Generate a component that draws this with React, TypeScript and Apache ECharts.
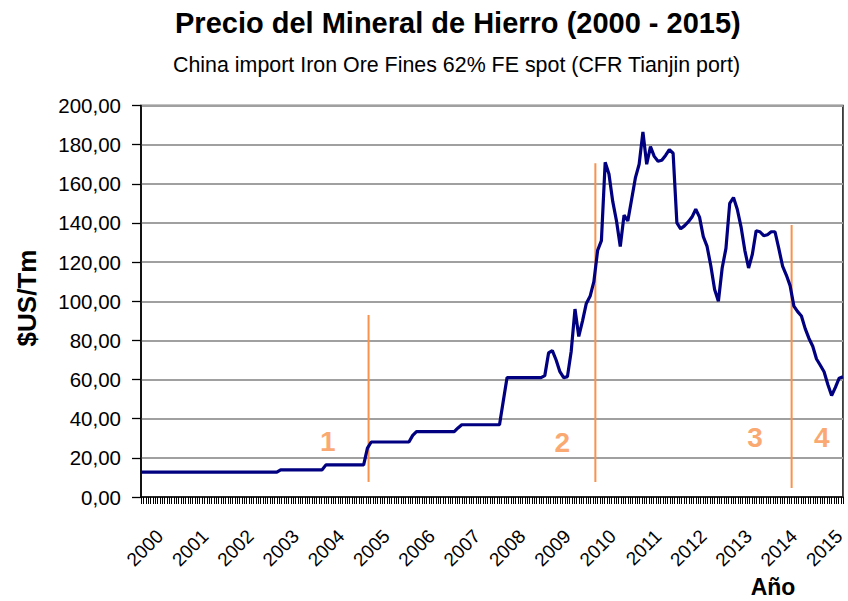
import React, { useEffect, useRef } from "react";
import * as echarts from "echarts";

const titleText = "Precio del Mineral de Hierro (2000 - 2015)";
const subtitleText = "China import Iron Ore Fines 62% FE spot (CFR Tianjin port)";
const yAxisName = "$US/Tm";
const xAxisName = "Año";

// monthly points, first point Aug 1999
const startYear = 1999;
const startMonth = 8;

const prices: number[] = [
  // 0-36
  12.7, 12.7, 12.7, 12.7, 12.7, 12.7, 12.7, 12.7, 12.7, 12.7,
  12.7, 12.7, 12.7, 12.7, 12.7, 12.7, 12.7, 12.7, 12.7, 12.7,
  12.7, 12.7, 12.7, 12.7, 12.7, 12.7, 12.7, 12.7, 12.7, 12.7,
  12.7, 12.7, 12.7, 12.7, 12.7, 12.7, 12.7,
  // 37-48
  13.9, 13.9, 13.9, 13.9, 13.9, 13.9, 13.9, 13.9, 13.9, 13.9, 13.9, 13.9,
  // 49-59
  16.4, 16.4, 16.4, 16.4, 16.4, 16.4, 16.4, 16.4, 16.4, 16.4, 16.4,
  // 60
  25,
  // 61-71
  28.1, 28.1, 28.1, 28.1, 28.1, 28.1, 28.1, 28.1, 28.1, 28.1, 28.1,
  // 72
  31.5,
  // 73-83
  33.4, 33.4, 33.4, 33.4, 33.4, 33.4, 33.4, 33.4, 33.4, 33.4, 33.4,
  // 84
  35.3,
  // 85-95
  36.9, 36.9, 36.9, 36.9, 36.9, 36.9, 36.9, 36.9, 36.9, 36.9, 36.9,
  // 96
  49,
  // 97-106
  61, 61, 61, 61, 61, 61, 61, 61, 61, 61,
  // 107-116
  62, 73.6, 74.8, 70, 64, 61, 61.5, 74.5, 96, 82,
  // 117-126
  90, 98.9, 102.5, 110, 126, 131, 171, 165, 151, 141,
  // 127-136
  128, 144, 141, 152, 163, 170, 186.5, 170, 179, 174,
  // 137-146
  171.5, 172, 174.5, 177.5, 175.6, 140, 137, 138.5, 140.5, 143,
  // 147-156
  147, 143, 133, 128, 118, 106, 100, 117, 127, 150,
  // 157-166
  153, 147, 138, 126, 117, 124, 136, 135.5, 133.5, 134,
  // 167-176
  135.5, 135.5, 127, 118, 113.4, 108, 97.5, 94.7, 92.5, 86,
  // 177-186
  81, 77, 70.5, 67.3, 64, 57.5, 51.8, 56, 60.7, 61.4,
];

// phase divider lines (month index, top value, bottom value)
const phaseLineAt = [60.3, 120.4, 172.4];
const phaseLineTop = [93, 170.5, 139];
const phaseLineBottom = [7.7, 7.7, 4.6];

// phase numbers (month index, value)
const phaseLabels = ["1", "2", "3", "4"];
const phaseLabelAt = [49.5, 111.6, 162.7, 180.4];
const phaseLabelValue = [28.6, 27.6, 30.6, 30.6];

const yMin = 0;
const yMax = 200;
const yStep = 20;

// spacing of the small tick marks along the x axis (in months)
const xTickStep = 0.62;

const FONT = "'Liberation Sans', Arial, sans-serif";
const ORANGE = "#F9924C";

export default function App() {
  const ref = useRef<HTMLDivElement>(null);

  useEffect(() => {
    if (!ref.current) return;
    const chart = echarts.init(ref.current, null, { renderer: "svg" });

    const categories: string[] = prices.map((_, i) => {
      const m = startMonth - 1 + i;
      const y = startYear + Math.floor(m / 12);
      const mm = (m % 12) + 1;
      return `${y}-${mm < 10 ? "0" + mm : mm}`;
    });

    const lastIdx = prices.length - 1;
    const tickPositions: number[] = [];
    for (let t = 0; t <= lastIdx + 1e-6; t += xTickStep) tickPositions.push(t);

    const lineSeries = phaseLineAt.map((x, k) => ({
      type: "line",
      xAxisIndex: 1,
      yAxisIndex: 0,
      data: [
        [x, phaseLineTop[k]],
        [x, phaseLineBottom[k]],
      ],
      showSymbol: false,
      symbol: "none",
      lineStyle: { color: ORANGE, width: 2 },
      silent: true,
      z: 1,
    }));

    chart.setOption({
      animation: false,
      backgroundColor: "#ffffff",
      textStyle: { fontFamily: FONT },
      title: [
        {
          text: titleText,
          left: 175,
          top: 8,
          padding: 0,
          textStyle: { fontFamily: FONT, fontSize: 29, fontWeight: "bold", color: "#000" },
        },
        {
          text: subtitleText,
          left: 173,
          top: 54,
          padding: 0,
          textStyle: { fontFamily: FONT, fontSize: 21.4, fontWeight: "normal", color: "#000" },
        },
      ],
      grid: {
        left: 141,
        right: 4,
        top: 105.5,
        bottom: 104,
        show: true,
        borderColor: "#111",
        borderWidth: 1.5,
        backgroundColor: "#ffffff",
      },
      xAxis: [
        {
          type: "category",
          data: categories,
          boundaryGap: false,
          axisLine: { show: true, lineStyle: { color: "#000", width: 1.5 } },
          axisTick: { show: false },
          axisLabel: {
            interval: (index: number) => index >= 5 && (index - 5) % 12 === 0,
            formatter: (v: string) => v.slice(0, 4),
            rotate: 45,
            margin: 36,
            fontSize: 19,
            fontFamily: FONT,
            color: "#000",
          },
          splitLine: { show: false },
        },
        {
          type: "value",
          min: 0,
          max: lastIdx,
          show: false,
          splitLine: { show: false },
        },
      ],
      yAxis: {
        type: "value",
        min: yMin,
        max: yMax,
        interval: yStep,
        axisLine: { show: true, lineStyle: { color: "#000", width: 1.5 } },
        axisTick: { show: true, inside: false, length: 9, lineStyle: { color: "#000", width: 1.3 } },
        axisLabel: {
          margin: 20,
          fontSize: 20.5,
          fontFamily: FONT,
          color: "#000",
          formatter: (v: number) => v.toFixed(2).replace(".", ","),
        },
        splitLine: { show: true, lineStyle: { color: "#a0a0a0", width: 2 } },
      },
      graphic: [
        {
          type: "text",
          x: 27,
          y: 298,
          rotation: Math.PI / 2,
          style: {
            text: yAxisName,
            fontSize: 26,
            fontWeight: "bold",
            fontFamily: FONT,
            fill: "#000",
            align: "center",
            verticalAlign: "middle",
          },
        },
        {
          type: "text",
          x: 773,
          y: 587,
          style: {
            text: xAxisName,
            fontSize: 23,
            fontWeight: "bold",
            fontFamily: FONT,
            fill: "#000",
            align: "center",
            verticalAlign: "middle",
          },
        },
      ],
      series: [
        {
          type: "custom",
          xAxisIndex: 1,
          yAxisIndex: 0,
          silent: true,
          clip: false,
          data: tickPositions.map((t) => [t, 0]),
          renderItem: (params: any, api: any) => {
            const p = api.coord([api.value(0), 0]);
            const x = Math.round(p[0]) + 0.5;
            return {
              type: "line",
              shape: { x1: x, y1: p[1], x2: x, y2: p[1] + 7 },
              style: { stroke: "#000", lineWidth: 1 },
            };
          },
          z: 2,
        },
        ...lineSeries,
        {
          type: "scatter",
          xAxisIndex: 1,
          yAxisIndex: 0,
          symbolSize: 0,
          silent: true,
          data: phaseLabels.map((t, k) => ({
            name: t,
            value: [phaseLabelAt[k], phaseLabelValue[k]],
          })),
          label: {
            show: true,
            position: "inside",
            formatter: (p: any) => p.name,
            fontSize: 28,
            fontWeight: "bold",
            fontFamily: FONT,
            color: ORANGE,
          },
          z: 3,
        },
        {
          type: "line",
          xAxisIndex: 0,
          yAxisIndex: 0,
          data: prices,
          showSymbol: false,
          symbol: "none",
          lineStyle: { color: "#000080", width: 3.2 },
          z: 5,
        },
      ],
    });

    return () => {
      chart.dispose();
    };
  }, []);

  return (
    <div
      ref={ref}
      style={{ position: "fixed", left: 0, top: 0, width: 848, height: 601, background: "#fff" }}
    />
  );
}
